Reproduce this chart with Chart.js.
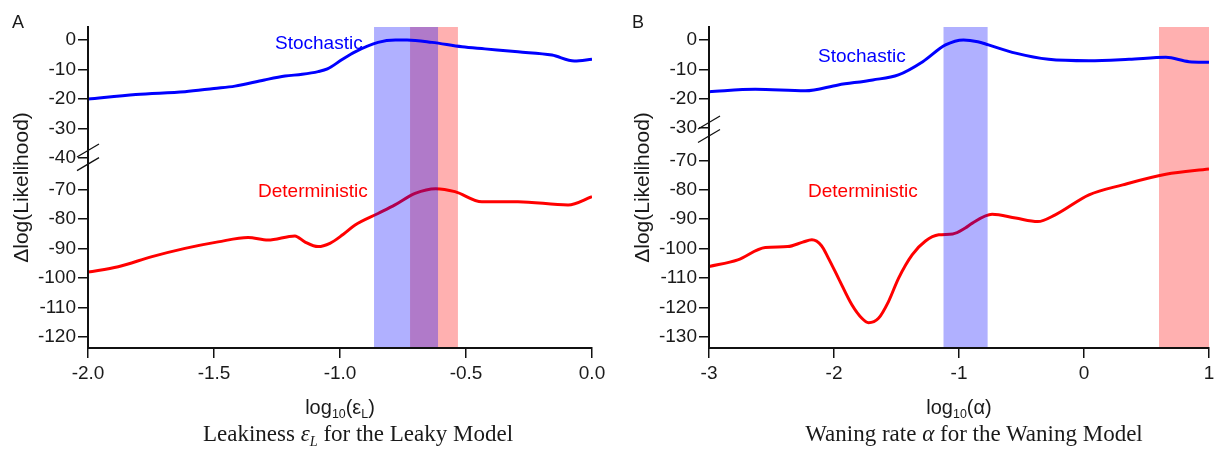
<!DOCTYPE html>
<html><head><meta charset="utf-8">
<script src="https://cdn.jsdelivr.net/npm/chart.js@4.4.1/dist/chart.umd.min.js"></script>
<style>
html,body{margin:0;padding:0;background:#fff;}
#wrap{position:relative;width:1222px;height:455px;overflow:hidden;font-family:"Liberation Sans",Arial,sans-serif;color:#1a1a1a;}
canvas{position:absolute;top:0;}
.t{position:absolute;white-space:nowrap;line-height:1;}
.c{transform:translateX(-50%);}
.sub{font-size:0.62em;position:relative;top:0.32em;}
.cap{font-family:"Liberation Serif","Times New Roman",serif;font-size:23px;}
</style></head><body>
<div id="wrap">
<canvas id="cA" width="611" height="455" style="left:0px"></canvas>
<canvas id="cB" width="601" height="455" style="left:621px"></canvas>
<div class="t" style="left:12px;top:13px;font-size:18px">A</div>
<div class="t" style="left:632px;top:13px;font-size:18px">B</div>
<div class="t" style="left:275px;top:33px;font-size:19px;color:#0000ff">Stochastic</div>
<div class="t" style="left:258px;top:181px;font-size:19px;color:#ff0000">Deterministic</div>
<div class="t" style="left:818px;top:46px;font-size:19px;color:#0000ff">Stochastic</div>
<div class="t" style="left:808px;top:181px;font-size:19px;color:#ff0000">Deterministic</div>
<div class="t c" style="left:340px;top:397px;font-size:20px">log<span class="sub">10</span>(ε<span class="sub">L</span>)</div>
<div class="t c" style="left:959px;top:397px;font-size:20px">log<span class="sub">10</span>(α)</div>
<div class="t c cap" style="left:358px;top:422px">Leakiness <i>ε<span class="sub">L</span></i> for the Leaky Model</div>
<div class="t c cap" style="left:974px;top:422px">Waning rate <i>α</i> for the Waning Model</div>
</div>
<script>
// ---------- Panel A : Leaky model ----------
const xStochA = [-2.0, -1.81, -1.615, -1.5, -1.417, -1.3, -1.218, -1.15, -1.087, -1.05, -0.99, -0.94, -0.849, -0.78, -0.734, -0.635, -0.516, -0.425, -0.294, -0.159, -0.07, 0.0];
const yStochA = [-20, -18.4, -17.5, -16.4, -15.6, -13.5, -12.2, -11.6, -10.7, -9.8, -6.5, -4.0, -0.8, 0, 0, -0.8, -2.3, -3.0, -4.0, -5.1, -7.1, -6.5];
const xDetA = [-2.0, -1.88, -1.746, -1.615, -1.484, -1.365, -1.286, -1.179, -1.14, -1.087, -1.04, -0.988, -0.94, -0.849, -0.782, -0.702, -0.62, -0.544, -0.437, -0.294, -0.095, 0.0];
const yDetA = [-98, -96.2, -92.8, -90.0, -87.8, -86.3, -87.2, -85.8, -87.8, -89.4, -88.3, -85.3, -82.1, -78.2, -75.3, -71.4, -69.8, -70.8, -74.2, -74.2, -75.3, -72.5];
const yTicksA = [0, -10, -20, -30, -40, -70, -80, -90, -100, -110, -120];
const xTicksA = [-2.0, -1.5, -1.0, -0.5, 0.0];
const bandsA = [
  {from: -0.722, to: -0.532, kind: 'det'},
  {from: -0.865, to: -0.611, kind: 'stoch'}
];

// ---------- Panel B : Waning model ----------
const xStochB = [-3.0, -2.63, -2.23, -1.966, -1.69, -1.485, -1.29, -1.108, -0.964, -0.85, -0.764, -0.547, -0.283, 0.04, 0.36, 0.655, 0.84, 1.0];
const yStochB = [-17.6, -16.8, -17.3, -15.3, -13.6, -11.9, -7.4, -1.7, 0, -0.6, -1.7, -4.5, -6.6, -7.1, -6.6, -5.9, -7.4, -7.6];
const xDetB = [-3.0, -2.77, -2.55, -2.37, -2.25, -2.177, -2.1, -2.044, -1.964, -1.857, -1.777, -1.724, -1.644, -1.564, -1.484, -1.375, -1.268, -1.162, -1.05, -0.95, -0.896, -0.735, -0.547, -0.37, -0.23, 0.04, 0.31, 0.655, 1.0];
const yDetB = [-106.1, -103.8, -99.6, -99.3, -97.8, -97.0, -99.0, -103.3, -110.1, -119.1, -123.7, -125.2, -123.7, -118.0, -110.1, -102.1, -97.4, -95.3, -95.0, -93.0, -91.4, -88.3, -89.6, -90.8, -88.5, -81.7, -78.3, -74.7, -72.9];
const yTicksB = [0, -10, -20, -30, -70, -80, -90, -100, -110, -120, -130];
const xTicksB = [-3, -2, -1, 0, 1];
const bandsB = [
  {from: 0.60, to: 1.0, kind: 'det'},
  {from: -1.124, to: -0.771, kind: 'stoch'}
];

const BAND_COLORS = {det: 'rgba(255,0,0,0.31)', stoch: 'rgba(0,0,255,0.31)'};
const FONT = "'Liberation Sans', Arial, sans-serif";

function makeChart(id, cfg) {
  const toDisp = v => (v >= cfg.breakAt ? v : v + cfg.shift);
  const pts = (xs, ys) => xs.map((x, i) => ({x: x, y: toDisp(ys[i])}));

  // bands drawn over the deterministic curve but under the stochastic curve
  const bandPlugin = {
    id: 'bands',
    beforeDatasetDraw(chart, args) {
      if (args.index !== 0) return;
      const {ctx, chartArea, scales} = chart;
      ctx.save();
      cfg.bands.forEach(b => {
        const x1 = scales.x.getPixelForValue(b.from);
        const x2 = scales.x.getPixelForValue(b.to);
        ctx.fillStyle = BAND_COLORS[b.kind];
        ctx.fillRect(x1, chartArea.top, x2 - x1, chartArea.bottom - chartArea.top);
      });
      ctx.restore();
    }
  };
  const breakPlugin = {
    id: 'axisBreak',
    afterDraw(chart) {
      const {ctx, scales} = chart;
      const ax = chart.chartArea.left;
      ctx.save();
      ctx.strokeStyle = '#111';
      ctx.lineWidth = 1.3;
      cfg.breakMarks.forEach(v => {
        const y = scales.y.getPixelForValue(v);
        ctx.beginPath();
        ctx.moveTo(ax - 11, y + 6.5);
        ctx.lineTo(ax + 11, y - 6.5);
        ctx.stroke();
      });
      ctx.restore();
    }
  };

  return new Chart(document.getElementById(id), {
    type: 'line',
    data: {
      datasets: [
        {label: 'Stochastic', data: pts(cfg.xs, cfg.ys), borderColor: '#0000ff', borderWidth: 3, pointRadius: 0, cubicInterpolationMode: 'monotone', fill: false},
        {label: 'Deterministic', data: pts(cfg.xd, cfg.yd), borderColor: '#ff0000', borderWidth: 3, pointRadius: 0, cubicInterpolationMode: 'monotone', fill: false}
      ]
    },
    options: {
      responsive: false,
      animation: false,
      events: [],
      layout: {padding: {left: 0, right: cfg.padRight, top: 27, bottom: 0}},
      plugins: {legend: {display: false}, tooltip: {enabled: false}},
      scales: {
        x: {
          type: 'linear',
          min: cfg.xTicks[0],
          max: cfg.xTicks[cfg.xTicks.length - 1],
          afterBuildTicks: s => { s.ticks = cfg.xTicks.map(v => ({value: v})); },
          afterFit: s => { s.height = 107; },
          ticks: {
            autoSkip: false, maxRotation: 0, padding: 4, color: '#1a1a1a',
            font: {family: FONT, size: 19},
            callback: (v, i) => cfg.xFmt(cfg.xTicks[i])
          },
          grid: {drawOnChartArea: false, drawTicks: true, tickLength: 10, color: '#111', lineWidth: 1.5},
          border: {display: true, color: '#111', width: 2, z: 1}
        },
        y: {
          type: 'linear',
          min: cfg.yMin,
          max: cfg.yMax,
          afterBuildTicks: s => { s.ticks = cfg.yTicks.map(v => ({value: toDisp(v)})); },
          afterFit: s => { s.width = 88; },
          ticks: {
            autoSkip: false, padding: 2, color: '#1a1a1a',
            font: {family: FONT, size: 19},
            callback: (v, i) => String(cfg.yTicks[i])
          },
          grid: {drawOnChartArea: false, drawTicks: true, tickLength: 10, color: '#111', lineWidth: 1.5},
          border: {display: true, color: '#111', width: 2, z: 1},
          title: {display: true, text: 'Δlog(Likelihood)', color: '#1a1a1a', font: {family: FONT, size: 21}, padding: {top: 10, bottom: 0}}
        }
      }
    },
    plugins: [bandPlugin, breakPlugin]
  });
}

makeChart('cA', {
  xs: xStochA, ys: yStochA, xd: xDetA, yd: yDetA,
  yTicks: yTicksA, xTicks: xTicksA, bands: bandsA,
  breakAt: -40, shift: 19.5, yMin: -104.2, yMax: 4.4,
  breakMarks: [-37.4, -42.0], padRight: 19,
  xFmt: v => v.toFixed(1)
});
makeChart('cB', {
  xs: xStochB, ys: yStochB, xd: xDetB, yd: yDetB,
  yTicks: yTicksB, xTicks: xTicksB, bands: bandsB,
  breakAt: -30, shift: 29, yMin: -104.8, yMax: 4.4,
  breakMarks: [-28.1, -32.7], padRight: 13,
  xFmt: v => String(v)
});
</script>
</body></html>
